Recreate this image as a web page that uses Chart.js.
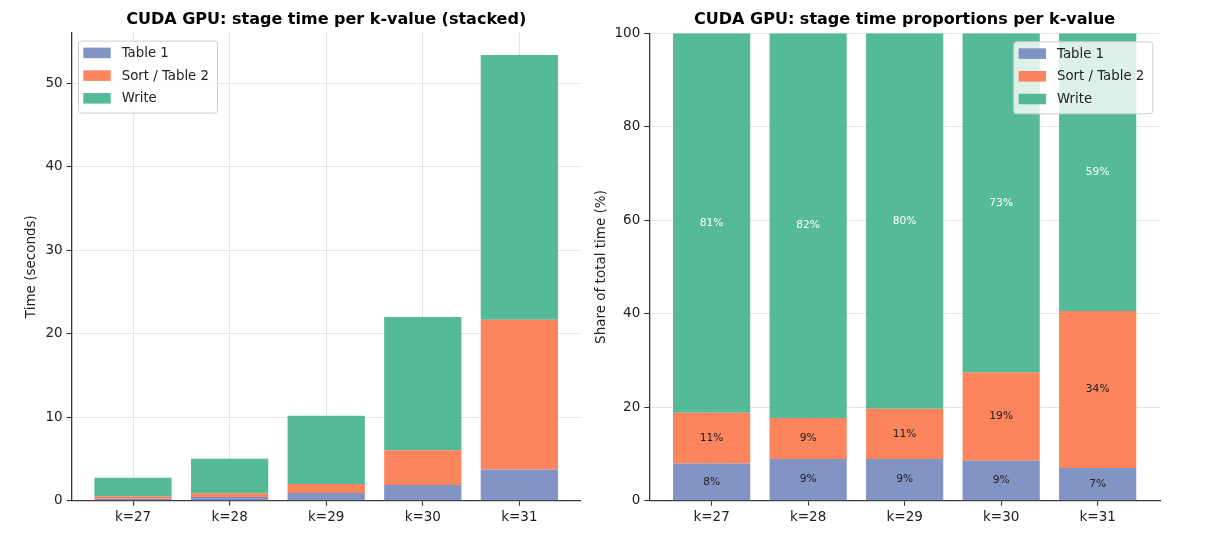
<!DOCTYPE html>
<html>
<head>
<meta charset="utf-8">
<script src="https://cdn.jsdelivr.net/npm/chart.js@4.4.1/dist/chart.umd.min.js"></script>
<style>
  html, body { margin: 0; padding: 0; background: #ffffff; }
  body { width: 1206px; height: 542px; overflow: hidden; position: relative; }
  #c1 { position: absolute; left: 0; top: 0; }
  #c2 { position: absolute; left: 590px; top: 0; }
</style>
</head>
<body>
<canvas id="c1" width="590" height="542"></canvas>
<canvas id="c2" width="616" height="542"></canvas>
<script>
// ---------------- data ----------------
const categories = ['k=27', 'k=28', 'k=29', 'k=30', 'k=31'];
const seriesNames = ['Table 1', 'Sort / Table 2', 'Write'];
const table1Sec = [0.22, 0.45, 0.91, 1.88, 3.74];
const sortSec   = [0.30, 0.44, 1.09, 4.16, 17.94];
const writeSec  = [2.24, 4.14, 8.18, 15.97, 31.72];
const timeTicks  = [0, 10, 20, 30, 40, 50];
const shareTicks = [0, 20, 40, 60, 80, 100];

// shares of total time per k-value (%)
const totals = table1Sec.map((v, i) => v + sortSec[i] + writeSec[i]);
const table1Pct = table1Sec.map((v, i) => v / totals[i] * 100);
const sortPct   = sortSec.map((v, i) => v / totals[i] * 100);
const writePct  = writeSec.map((v, i) => v / totals[i] * 100);

// ---------------- styling ----------------
const COLORS = ['rgba(116,136,189,0.9)', 'rgba(252,120,76,0.9)', 'rgba(67,179,143,0.9)'];
const FONT = '"DejaVu Sans", "Liberation Sans", sans-serif';
Chart.defaults.font.family = FONT;
Chart.defaults.color = '#222';

const toPts = arr => arr.map((v, i) => ({ x: i, y: v }));

function makeDatasets(seriesArrays) {
  return seriesArrays.map((arr, i) => ({
    label: seriesNames[i],
    data: toPts(arr),
    backgroundColor: COLORS[i],
    borderWidth: 0,
    barPercentage: 0.8,
    categoryPercentage: 1.0
  }));
}

const titlePlugin = {
  id: 'ttl',
  afterDraw(chart, args, o) {
    const { ctx, chartArea: a } = chart;
    ctx.save();
    ctx.font = 'bold 16px ' + FONT;
    ctx.fillStyle = '#000';
    ctx.textAlign = 'center';
    ctx.textBaseline = 'alphabetic';
    ctx.fillText(o.text, (a.left + a.right) / 2, 24);
    ctx.restore();
  }
};

const legendPlugin = {
  id: 'lgd',
  afterDatasetsDraw(chart, args, o) {
    const { ctx, chartArea: a } = chart;
    const w = 139, h = 72;
    const x0 = o.side === 'left' ? a.left + 6.3 : a.right - 7.7 - w;
    const y0 = a.top + 8;
    ctx.save();
    ctx.beginPath();
    if (ctx.roundRect) ctx.roundRect(x0 + 0.5, y0 + 0.5, w, h, 3); else ctx.rect(x0 + 0.5, y0 + 0.5, w, h);
    ctx.fillStyle = 'rgba(255,255,255,0.8)';
    ctx.fill();
    ctx.strokeStyle = '#cfcfcf';
    ctx.lineWidth = 1;
    ctx.stroke();
    ctx.font = '13.3px ' + FONT;
    ctx.textBaseline = 'middle';
    ctx.textAlign = 'left';
    chart.data.datasets.forEach((ds, i) => {
      const cy = y0 + 12.3 + i * 22.7;
      ctx.fillStyle = ds.backgroundColor;
      ctx.fillRect(x0 + 5.3, cy - 5.3, 27.4, 10.6);
      ctx.fillStyle = '#222';
      ctx.fillText(ds.label, x0 + 43.7, cy + 0.5);
    });
    ctx.restore();
  }
};

const pctLabelPlugin = {
  id: 'pct',
  afterDatasetsDraw(chart) {
    const { ctx } = chart;
    ctx.save();
    ctx.font = '10.7px ' + FONT;
    ctx.textAlign = 'center';
    ctx.textBaseline = 'middle';
    chart.data.datasets.forEach((ds, di) => {
      const meta = chart.getDatasetMeta(di);
      meta.data.forEach((el, j) => {
        const v = ds.data[j].y;
        ctx.fillStyle = di === 2 ? '#ffffff' : '#222222';
        ctx.fillText(Math.round(v) + '%', el.x, (el.y + el.base) / 2);
      });
    });
    ctx.restore();
  }
};

function makeScales(cfg) {
  return {
    x: {
      type: 'linear',
      min: cfg.xmin, max: cfg.xmax,
      stacked: true,
      offset: false,
      afterBuildTicks: s => { s.ticks = categories.map((_, i) => ({ value: i })); },
      afterFit: s => { s.height = 41.3; },
      ticks: {
        callback: (v, idx) => categories[idx],
        color: '#222', font: { size: 13.5 }, padding: 4,
        autoSkip: false, maxRotation: 0, minRotation: 0
      },
      grid: { offset: false, color: '#e6e6e6', lineWidth: 1, drawTicks: true, tickLength: 5, tickColor: '#333', tickWidth: 1.1 },
      border: { display: true, color: '#3a3a3a', width: 1.3 }
    },
    y: {
      type: 'linear',
      min: 0, max: cfg.ymax,
      stacked: true,
      afterBuildTicks: s => { s.ticks = cfg.ticks.map(v => ({ value: v })); },
      afterFit: s => { s.width = cfg.yWidth; },
      ticks: { callback: v => String(v), color: '#222', font: { size: 13.5 }, padding: 4 },
      grid: {
        offset: false,
        color: c => (c.tick && c.tick.value === 0) ? 'rgba(0,0,0,0)' : '#e6e6e6',
        lineWidth: 1, drawTicks: true, tickLength: 5, tickColor: '#333', tickWidth: 1.1
      },
      border: { display: true, color: '#3a3a3a', width: 1.3 },
      title: {
        display: true, text: cfg.yTitle, color: '#222',
        font: { size: 13.5 }, padding: { top: cfg.titlePad, bottom: 0 }
      }
    }
  };
}

const common = {
  responsive: false,
  animation: false,
  events: [],
  devicePixelRatio: 1
};

new Chart(document.getElementById('c1'), {
  type: 'bar',
  data: { datasets: makeDatasets([table1Sec, sortSec, writeSec]) },
  options: Object.assign({}, common, {
    layout: { padding: { left: 0, right: 9.3, top: 32.6, bottom: 0 } },
    scales: makeScales({ xmin: -0.635, xmax: 4.635, ymax: 56.08, ticks: timeTicks,
                         yWidth: 71.7, yTitle: 'Time (seconds)', titlePad: 23.6 }),
    plugins: {
      legend: { display: false }, tooltip: { enabled: false }, title: { display: false },
      ttl: { text: 'CUDA GPU: stage time per k-value (stacked)' },
      lgd: { side: 'left' }
    }
  }),
  plugins: [titlePlugin, legendPlugin]
});

new Chart(document.getElementById('c2'), {
  type: 'bar',
  data: { datasets: makeDatasets([table1Pct, sortPct, writePct]) },
  options: Object.assign({}, common, {
    layout: { padding: { left: 0, right: 46, top: 33.3, bottom: 0 } },
    scales: makeScales({ xmin: -0.646, xmax: 4.646, ymax: 100, ticks: shareTicks,
                         yWidth: 59.3, yTitle: 'Share of total time (%)', titlePad: 3.6 }),
    plugins: {
      legend: { display: false }, tooltip: { enabled: false }, title: { display: false },
      ttl: { text: 'CUDA GPU: stage time proportions per k-value' },
      lgd: { side: 'right' }
    }
  }),
  plugins: [pctLabelPlugin, titlePlugin, legendPlugin]
});
</script>
</body>
</html>
